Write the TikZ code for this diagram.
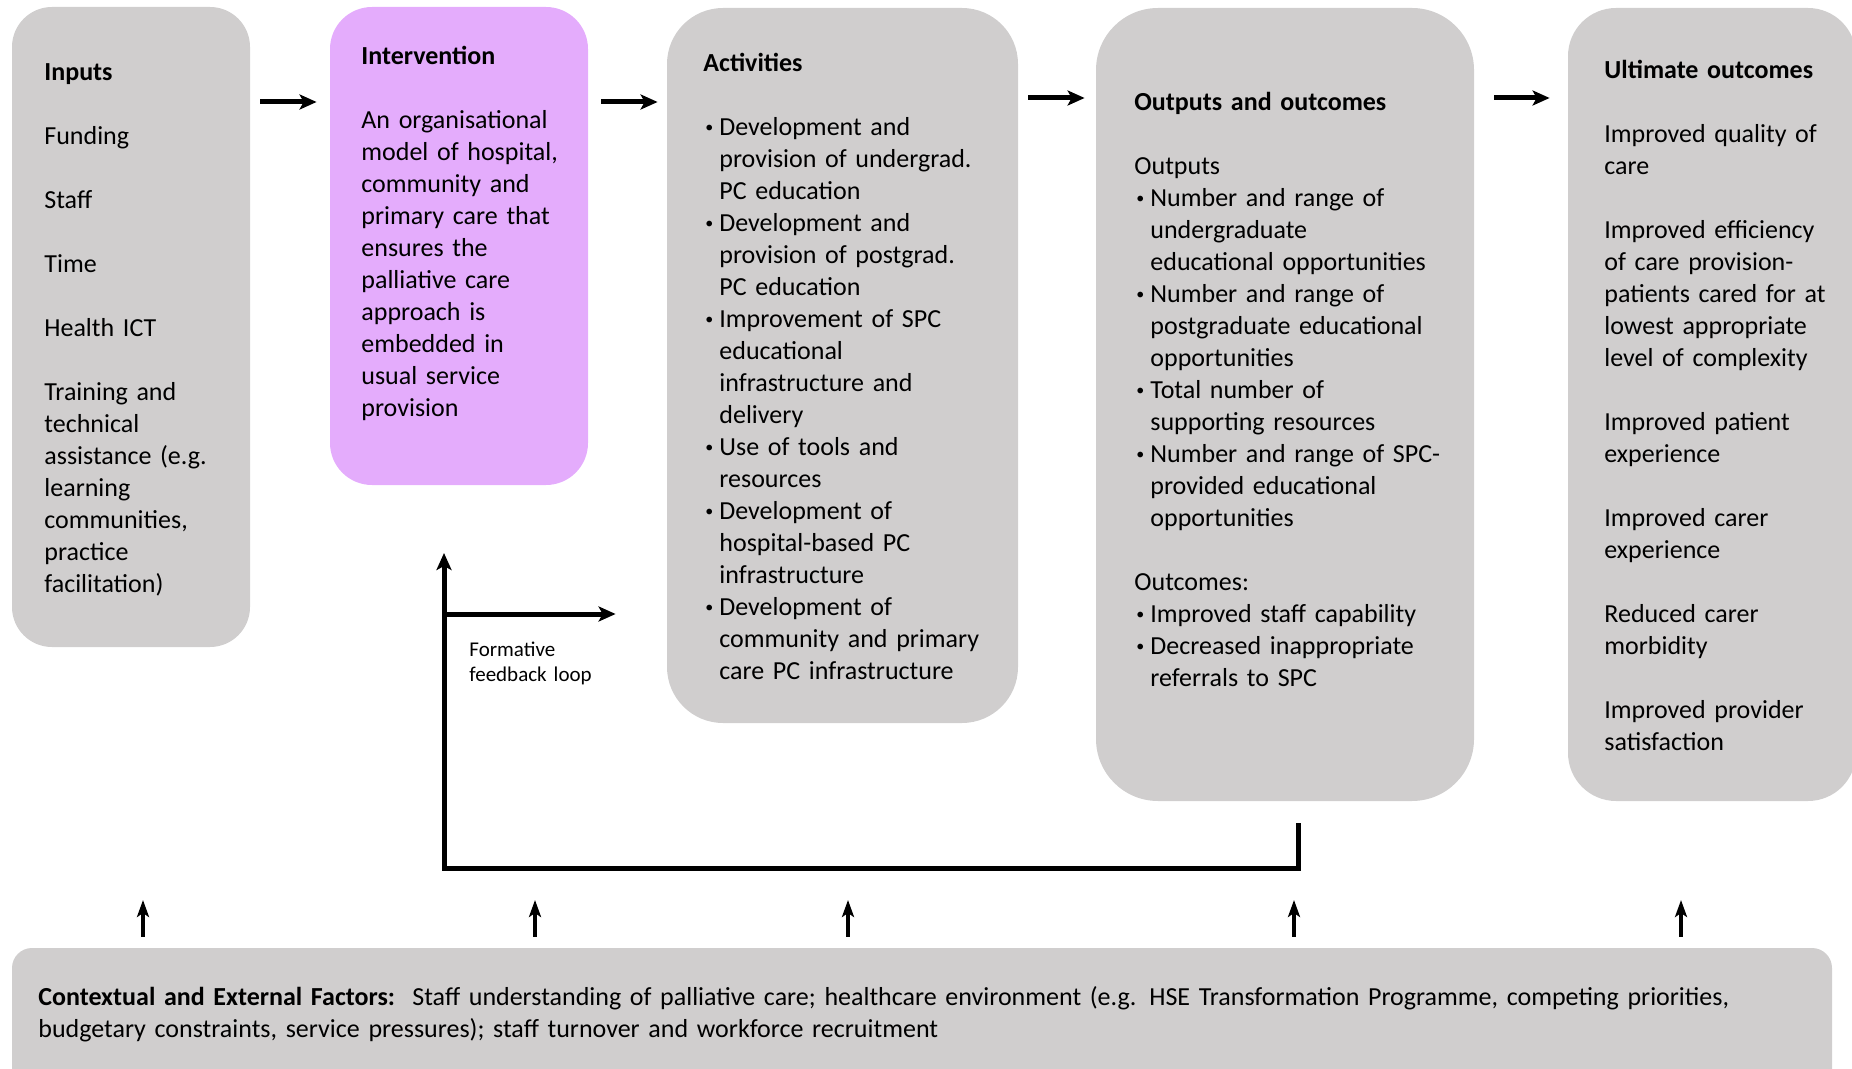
\documentclass[tikz,border=0pt]{standalone}
\usepackage{fontspec}
\setmainfont{Carlito}
\usetikzlibrary{arrows.meta,fit}
\definecolor{boxgrey}{RGB}{208,206,206}
\definecolor{boxpink}{RGB}{228,172,252}
\newcommand{\bitem}{\makebox[8pt][l]{\hspace{1pt}\raisebox{1.6pt}{\fontsize{8}{8}\selectfont\textbullet}}}
\newcommand{\bcont}{\hspace*{8pt}}

\begin{document}
\begin{tikzpicture}[x=0.5pt,y=-0.5pt,
  panel/.style={fill=boxgrey,inner sep=0pt},
  paneltext/.style={anchor=base west,inner sep=0pt,text width=300pt,align=left,font=\fontsize{13}{16}\selectfont},
  flow/.style={line width=2.5pt,-{Stealth[length=8.5pt,width=7.5pt,inset=2pt]}},
  push/.style={line width=1.7pt,-{Stealth[length=8.5pt,width=6pt,inset=2pt]}}]
  \useasboundingbox (0,0) rectangle (1852,1069);

  \node[panel,rounded corners=20pt,fit={(12,7) (250,647)}] (inputs) {};
  \node[panel,fill=boxpink,rounded corners=21pt,fit={(330,7) (588,485)}] (interv) {};
  \node[panel,rounded corners=28pt,fit={(667,8) (1018,723)}] (activ) {};
  \node[panel,rounded corners=31pt,fit={(1096,8) (1474,801)}] (outp) {};
  \node[panel,rounded corners=24pt,fit={(1568,8) (1856,801)}] (ultim) {};
  \node[panel,rounded corners=10pt,fit={(12,948) (1832,1090)}] (context) {};

  \node[paneltext] (inputstxt) at (44,81) {\textbf{Inputs}\\[16pt]
    Funding\\[16pt] Staff\\[16pt] Time\\[16pt] Health ICT\\[16pt]
    Training and\\ technical\\ assistance (e.g.\\ learning\\ communities,\\ practice\\ facilitation)};
  \node[paneltext] (intervtxt) at (361,65) {\textbf{Intervention}\\[16pt]
    An organisational\\ model of hospital,\\ community and\\ primary care that\\ ensures the\\
    palliative care\\ approach is\\ embedded in\\ usual service\\ provision};
  \node[paneltext] (activtxt) at (703,72) {\textbf{Activities}\\[16pt]
    \bitem Development and\\ \bcont provision of undergrad.\\ \bcont PC education\\
    \bitem Development and\\ \bcont provision of postgrad.\\ \bcont PC education\\
    \bitem Improvement of SPC\\ \bcont educational\\ \bcont infrastructure and\\ \bcont delivery\\
    \bitem Use of tools and\\ \bcont resources\\
    \bitem Development of\\ \bcont hospital-based PC\\ \bcont infrastructure\\
    \bitem Development of\\ \bcont community and primary\\ \bcont care PC infrastructure};
  \node[paneltext] (outptxt) at (1134,111) {\textbf{Outputs and outcomes}\\[16pt]
    Outputs\\
    \bitem Number and range of\\ \bcont undergraduate\\ \bcont educational opportunities\\
    \bitem Number and range of\\ \bcont postgraduate educational\\ \bcont opportunities\\
    \bitem Total number of\\ \bcont supporting resources\\
    \bitem Number and range of SPC-\\ \bcont provided educational\\ \bcont opportunities\\[16pt]
    Outcomes:\\
    \bitem Improved staff capability\\
    \bitem Decreased inappropriate\\ \bcont referrals to SPC};
  \node[paneltext] (ultimtxt) at (1604,79) {\textbf{Ultimate outcomes}\\[16pt]
    Improved quality of\\ care\\[16pt]
    Improved efficiency\\ of care provision-\\ patients cared for at\\ lowest appropriate\\ level of complexity\\[16pt]
    Improved patient\\ experience\\[16pt]
    Improved carer\\ experience\\[16pt]
    Reduced carer\\ morbidity\\[16pt]
    Improved provider\\ satisfaction};
  \node[paneltext,text width=900pt] (contexttxt) at (38,1005) {\textbf{Contextual and External Factors:}\ \ Staff understanding of palliative care; healthcare environment (e.g. HSE Transformation Programme, competing priorities,\\
    budgetary constraints, service pressures); staff turnover and workforce recruitment};
  \node[paneltext,font=\fontsize{10.5}{12.8}\selectfont] (loop) at (469,656) {Formative\\ feedback loop};

  \coordinate (row1) at (0,102);
  \coordinate (row2) at (0,98);
  \draw[flow,shorten <=5pt,shorten >=6.5pt] (inputs.east |- row1) -- (interv.west |- row1);
  \draw[flow,shorten <=6.5pt,shorten >=4.5pt] (interv.east |- row1) -- (activ.west |- row1);
  \draw[flow,shorten <=5pt,shorten >=5.5pt] (activ.east |- row2) -- (outp.west |- row2);
  \draw[flow,shorten <=10pt,shorten >=9pt] (outp.east |- row2) -- (ultim.west |- row2);

  \coordinate (fbstart) at (1298,823);
  \coordinate (fbcorner) at (444,868);
  \coordinate (fbtop) at (444,553);
  \coordinate (fbbranch) at (444,614);
  \draw[flow] (fbstart) |- (fbcorner) -- (fbtop);
  \draw[flow,shorten >=25.5pt] (fbbranch) -- (fbbranch -| activ.west);

  \foreach \x in {143,535,848,1294,1681} {
    \coordinate (up\x) at (\x,900);
    \draw[push,shorten <=5.5pt] (up\x |- context.north) -- (up\x);
  }
\end{tikzpicture}
\end{document}
